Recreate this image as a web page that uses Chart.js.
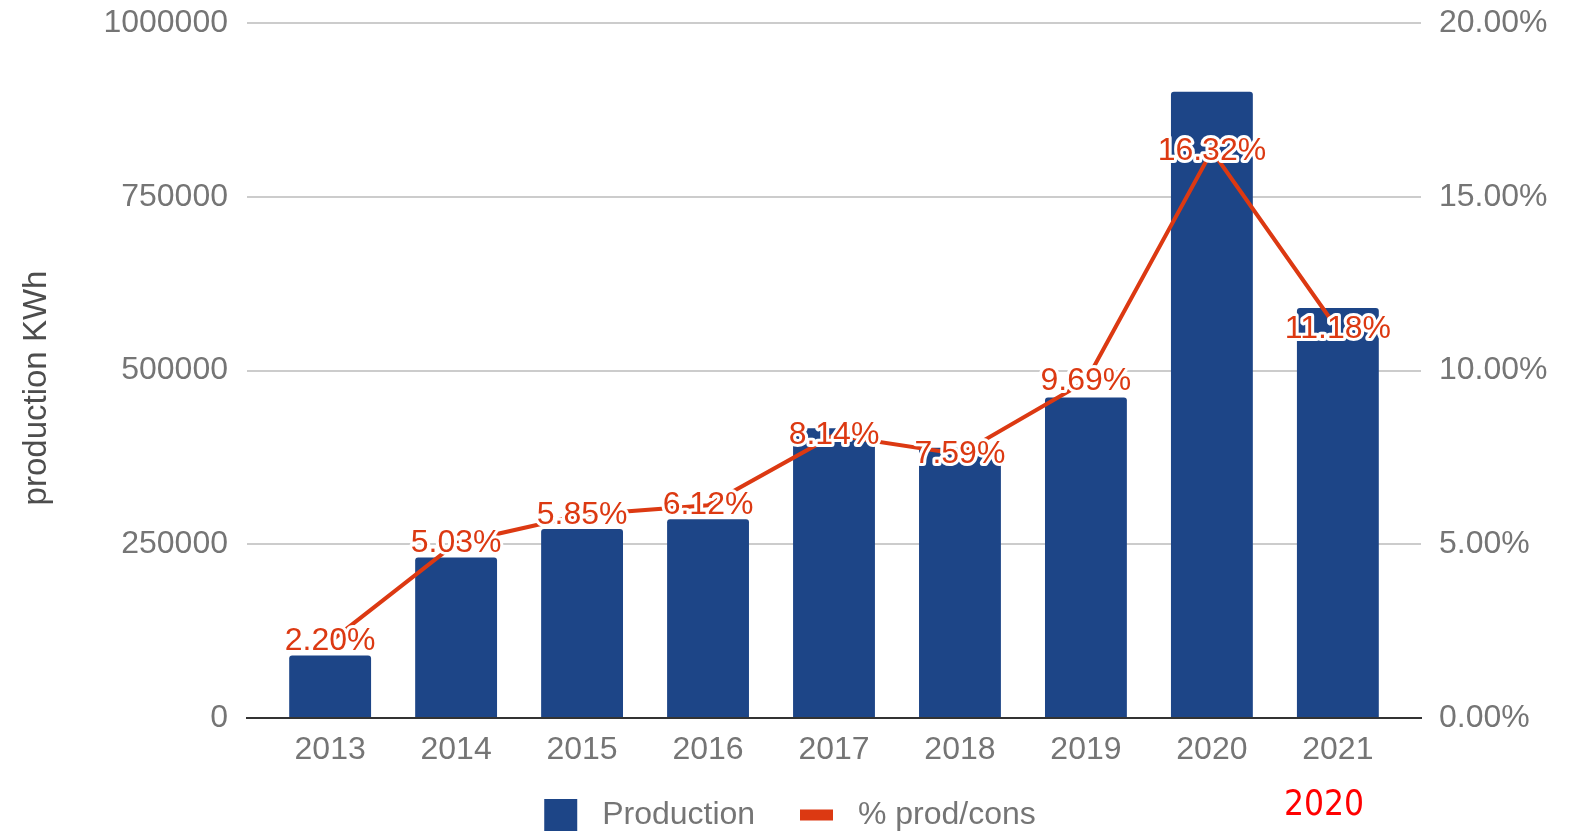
<!DOCTYPE html>
<html>
<head>
<meta charset="utf-8">
<script src="https://cdn.jsdelivr.net/npm/chart.js@4.4.1/dist/chart.umd.min.js"></script>
<style>
  html, body { margin: 0; padding: 0; background: #fff; }
  #wrap { position: relative; width: 1580px; height: 832px; }
  #note { position: absolute; left: 1284px; top: 786px; font-family: "Liberation Sans Narrow", "Arial Narrow", "DejaVu Sans Condensed", sans-serif; font-size: 35px; line-height: 35px; color: #ff0000; }
</style>
</head>
<body>
<div id="wrap">
  <canvas id="c" width="1580" height="832"></canvas>
  <div id="note">2020</div>
</div>
<script>
const years = ['2013', '2014', '2015', '2016', '2017', '2018', '2019', '2020', '2021'];
const production = [90000, 231000, 272000, 286000, 417000, 389000, 461000, 901000, 590000];
const percentProdCons = [2.20, 5.03, 5.85, 6.12, 8.14, 7.59, 9.69, 16.32, 11.18];
const leftTicks = [0, 250000, 500000, 750000, 1000000];
const rightTicks = [0, 5, 10, 15, 20];
const seriesNames = ['Production', '% prod/cons'];
const leftAxisTitle = 'production KWh';

const FONT = '"Liberation Sans", Arial, sans-serif';
const BLUE = '#1d4587';
const RED = '#dc3912';
const GRAY = '#757575';

const pointLabels = {
  id: 'pointLabels',
  afterDatasetsDraw(chart) {
    const meta = chart.getDatasetMeta(1);
    const ctx = chart.ctx;
    ctx.save();
    ctx.font = '32px ' + FONT;
    ctx.textAlign = 'center';
    ctx.textBaseline = 'middle';
    ctx.lineJoin = 'round';
    meta.data.forEach((pt, i) => {
      const txt = percentProdCons[i].toFixed(2) + '%';
      ctx.lineWidth = 6;
      ctx.strokeStyle = '#ffffff';
      ctx.strokeText(txt, pt.x, pt.y);
      ctx.fillStyle = RED;
      ctx.fillText(txt, pt.x, pt.y);
    });
    ctx.restore();
  }
};

const axisTitle = {
  id: 'axisTitle',
  afterDraw(chart) {
    const ctx = chart.ctx;
    ctx.save();
    ctx.translate(37, 388);
    ctx.rotate(-Math.PI / 2);
    ctx.font = '33px ' + FONT;
    ctx.fillStyle = '#4d4d4d';
    ctx.textAlign = 'center';
    ctx.textBaseline = 'middle';
    ctx.fillText(leftAxisTitle, 0, 0);
    ctx.restore();
  }
};

function noVPad(s) { s.paddingTop = 0; s.paddingBottom = 0; }

new Chart(document.getElementById('c'), {
  data: {
    datasets: [
      {
        type: 'bar',
        label: seriesNames[0],
        data: years.map((y, i) => ({ x: i, y: production[i] })),
        backgroundColor: BLUE,
        borderRadius: { topLeft: 3, topRight: 3 },
        borderSkipped: 'bottom',
        barPercentage: 0.65,
        categoryPercentage: 1,
        yAxisID: 'y',
        order: 2
      },
      {
        type: 'line',
        label: seriesNames[1],
        data: years.map((y, i) => ({ x: i, y: percentProdCons[i] })),
        borderColor: RED,
        backgroundColor: RED,
        borderWidth: 4,
        pointRadius: 0,
        tension: 0,
        yAxisID: 'y1',
        order: 1
      }
    ]
  },
  options: {
    responsive: false,
    animation: false,
    layout: { padding: { top: 23, left: 0, right: 0, bottom: -9 } },
    plugins: {
      tooltip: { enabled: false },
      legend: {
        position: 'bottom',
        labels: {
          usePointStyle: true,
          pointStyleWidth: 33,
          boxHeight: 32,
          padding: 36,
          color: GRAY,
          font: { family: FONT, size: 32 },
          generateLabels(chart) {
            return [
              { text: ' ' + seriesNames[0] + ' ', fillStyle: BLUE, strokeStyle: BLUE, lineWidth: 0, pointStyle: 'rect', datasetIndex: 0, fontColor: GRAY },
              { text: ' ' + seriesNames[1], fillStyle: RED, strokeStyle: RED, lineWidth: 11, pointStyle: 'line', datasetIndex: 1, fontColor: GRAY }
            ];
          }
        }
      }
    },
    scales: {
      x: {
        type: 'linear',
        offset: false,
        min: -0.66,
        max: 8.66,
        afterFit(s) { s.height = 45; },
        grid: { display: false, drawTicks: false },
        border: { display: true, color: '#333333', width: 2 },
        ticks: {
          stepSize: 1,
          includeBounds: false,
          autoSkip: false,
          maxRotation: 0,
          padding: 13,
          color: GRAY,
          font: { family: FONT, size: 32 },
          callback: (v) => Number.isInteger(v) && v >= 0 && v < years.length ? years[v] : ''
        }
      },
      y: {
        position: 'left',
        min: 0,
        max: 1000000,
        afterFit(s) { s.width = 247; noVPad(s); },
        afterBuildTicks(s) { s.ticks = leftTicks.map(v => ({ value: v })); },
        grid: { color: '#cccccc', lineWidth: 2, drawTicks: false },
        border: { display: false },
        ticks: {
          padding: 19,
          color: GRAY,
          font: { family: FONT, size: 32 },
          callback: (v) => String(v)
        }
      },
      y1: {
        position: 'right',
        min: 0,
        max: 20,
        afterFit(s) { s.width = 159; noVPad(s); },
        afterBuildTicks(s) { s.ticks = rightTicks.map(v => ({ value: v })); },
        grid: { display: false, drawTicks: false },
        border: { display: false },
        ticks: {
          padding: 18,
          color: GRAY,
          font: { family: FONT, size: 32 },
          callback: (v) => v.toFixed(2) + '%'
        }
      }
    }
  },
  plugins: [pointLabels, axisTitle]
});
</script>
</body>
</html>
